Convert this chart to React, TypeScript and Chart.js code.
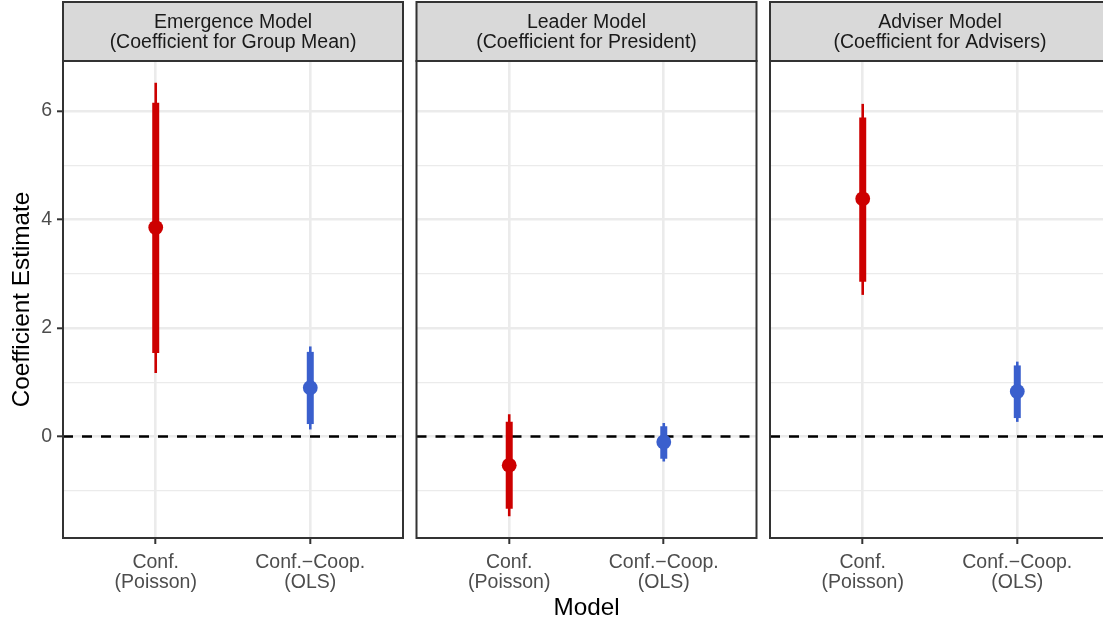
import React, { useEffect, useRef } from "react";
import { Chart, registerables } from "chart.js";

Chart.register(...registerables);

// Facet strip titles (two lines each)
const panelTitles = [
  ["Emergence Model", "(Coefficient for Group Mean)"],
  ["Leader Model", "(Coefficient for President)"],
  ["Adviser Model", "(Coefficient for Advisers)"],
];

// Model categories on the x axis
const modelLabels = [
  ["Conf.", "(Poisson)"],
  ["Conf.\u2212Coop.", "(OLS)"],
];
const modelPositions = [1, 2];
const modelColors = ["#CD0000", "#3A5FCD"];

// Coefficient estimates per panel: [Conf. (Poisson), Conf.-Coop. (OLS)]
const estimates = [
  [3.85, 0.9],
  [-0.53, -0.1],
  [4.38, 0.83],
];
// Inner (thick) interval bounds
const innerLow = [
  [1.54, 0.23],
  [-1.33, -0.41],
  [2.85, 0.34],
];
const innerHigh = [
  [6.15, 1.56],
  [0.27, 0.19],
  [5.88, 1.31],
];
// Outer (thin) interval bounds
const outerLow = [
  [1.17, 0.13],
  [-1.47, -0.46],
  [2.61, 0.27],
];
const outerHigh = [
  [6.52, 1.66],
  [0.41, 0.25],
  [6.13, 1.38],
];

// Axis ticks and limits
const yTicks = [-1, 0, 1, 2, 3, 4, 5, 6];
const yLabelled = [0, 2, 4, 6];
const yLimits = [-1.87, 6.92];
const xLimits = [0.4, 2.6];
const referenceLine = 0;

const FONT = "'Liberation Sans', Arial, Helvetica, sans-serif";
const FIG_W = 1103;
const FIG_H = 620;
const PANEL_LEFTS = [63, 416.5, 770];
const PANEL_W = 340;
const PANEL_TOP = 61;
const X_AXIS_H = 82;
const STRIP_TOP = 2;
const Y_AXIS_W = 63;

const facetStrip = {
  id: "facetStrip",
  afterDraw(chart: any, _args: any, opts: any) {
    const { ctx, chartArea: a } = chart;
    ctx.save();
    // strip background and frame
    ctx.fillStyle = "#D9D9D9";
    ctx.fillRect(a.left, STRIP_TOP, a.right - a.left, a.top - STRIP_TOP);
    ctx.strokeStyle = "#333333";
    ctx.lineWidth = 2;
    ctx.strokeRect(a.left, STRIP_TOP, a.right - a.left, a.top - STRIP_TOP);
    // panel frame
    ctx.strokeRect(a.left, a.top, a.right - a.left, a.bottom - a.top);
    // strip text
    ctx.fillStyle = "#1A1A1A";
    ctx.font = `19.5px ${FONT}`;
    ctx.textAlign = "center";
    ctx.textBaseline = "alphabetic";
    const cx = (a.left + a.right) / 2;
    const lines: string[] = opts.lines || [];
    lines.forEach((t, i) => ctx.fillText(t, cx, 27.7 + i * 19.8));
    ctx.restore();
  },
};

function FacetPanel({ index }: { index: number }) {
  const ref = useRef<HTMLCanvasElement>(null);
  const first = index === 0;
  const panelLeft = PANEL_LEFTS[index];
  const axisW = first ? Y_AXIS_W : 0;
  const canvasLeft = Math.max(0, Math.floor(panelLeft - axisW - 3));
  const padLeft = panelLeft - axisW - canvasLeft;
  const canvasW = Math.ceil(panelLeft + PANEL_W + 3 - canvasLeft);
  const padRight = canvasW - (panelLeft + PANEL_W - canvasLeft);

  useEffect(() => {
    const canvas = ref.current;
    if (!canvas) return;

    const points = {
      data: modelPositions.map((x, j) => ({ x, y: estimates[index][j] })),
      pointBackgroundColor: modelColors,
      pointBorderWidth: 0,
      pointRadius: 7.4,
      pointHoverRadius: 7.4,
      showLine: false,
    };
    const thick = modelPositions.map((x, j) => ({
      data: [
        { x, y: innerLow[index][j] },
        { x, y: innerHigh[index][j] },
      ],
      showLine: true,
      borderColor: modelColors[j],
      borderWidth: 7,
      borderCapStyle: "butt",
      pointRadius: 0,
      pointHoverRadius: 0,
    }));
    const thin = modelPositions.map((x, j) => ({
      data: [
        { x, y: outerLow[index][j] },
        { x, y: outerHigh[index][j] },
      ],
      showLine: true,
      borderColor: modelColors[j],
      borderWidth: 2.6,
      borderCapStyle: "butt",
      pointRadius: 0,
      pointHoverRadius: 0,
    }));
    const zero = {
      data: [
        { x: xLimits[0], y: referenceLine },
        { x: xLimits[1], y: referenceLine },
      ],
      showLine: true,
      borderColor: "#000000",
      borderWidth: 2.6,
      borderDash: [10, 9],
      borderCapStyle: "butt",
      pointRadius: 0,
      pointHoverRadius: 0,
    };

    const chart = new Chart(canvas, {
      type: "scatter",
      data: { datasets: [points, ...thick, ...thin, zero] as any },
      plugins: [facetStrip as any],
      options: {
        animation: false,
        responsive: false,
        devicePixelRatio: 1,
        events: [],
        layout: {
          autoPadding: false,
          padding: { top: PANEL_TOP, bottom: 0, left: padLeft, right: padRight },
        },
        plugins: {
          legend: { display: false },
          tooltip: { enabled: false },
          facetStrip: { lines: panelTitles[index] },
        } as any,
        scales: {
          x: {
            type: "linear",
            min: xLimits[0],
            max: xLimits[1],
            afterBuildTicks: (scale: any) => {
              scale.ticks = modelPositions.map((v) => ({ value: v }));
            },
            afterFit: (scale: any) => {
              scale.height = X_AXIS_H;
              scale.paddingLeft = 0;
              scale.paddingRight = 0;
            },
            border: { display: false },
            grid: {
              color: "#EBEBEB",
              lineWidth: 2.6,
              tickColor: "#333333",
              tickWidth: 2,
              tickLength: 6,
            },
            ticks: {
              autoSkip: false,
              maxRotation: 0,
              padding: 8.5,
              color: "#4D4D4D",
              font: { family: FONT, size: 19.5, lineHeight: "20px" },
              callback: (v: any) => modelLabels[modelPositions.indexOf(Number(v))] as any,
            },
            title: {
              display: index === 1,
              text: "Model",
              color: "#000000",
              font: { family: FONT, size: 24.3, lineHeight: 1.0 },
              padding: { top: 0, bottom: 0 },
            },
          },
          y: {
            type: "linear",
            min: yLimits[0],
            max: yLimits[1],
            afterBuildTicks: (scale: any) => {
              scale.ticks = yTicks.map((v) => ({ value: v }));
            },
            afterFit: (scale: any) => {
              scale.width = axisW;
              scale.paddingTop = 0;
              scale.paddingBottom = 0;
            },
            border: { display: false },
            grid: {
              color: "#EBEBEB",
              lineWidth: (c: any) => (yLabelled.includes(c.tick?.value) ? 2.6 : 1.3),
              tickColor: (c: any) =>
                yLabelled.includes(c.tick?.value) ? "#333333" : "rgba(0,0,0,0)",
              tickWidth: 2,
              tickLength: 6,
              drawTicks: first,
            },
            ticks: {
              display: first,
              autoSkip: false,
              padding: 5,
              color: "#4D4D4D",
              font: { family: FONT, size: 19.5 },
              callback: (v: any) => (yLabelled.includes(Number(v)) ? String(v) : ""),
            },
            title: {
              display: first,
              text: "Coefficient Estimate",
              color: "#000000",
              font: { family: FONT, size: 24.3, lineHeight: 1.1 },
              padding: { top: 8.5, bottom: 0 },
            },
          },
        },
      } as any,
    });
    return () => chart.destroy();
  }, [index]);

  return (
    <canvas
      ref={ref}
      width={canvasW}
      height={FIG_H}
      style={{
        position: "absolute",
        left: canvasLeft,
        top: 0,
        width: canvasW,
        height: FIG_H,
        display: "block",
      }}
    />
  );
}

export default function App() {
  return (
    <div
      style={{
        position: "absolute",
        left: 0,
        top: 0,
        width: FIG_W,
        height: FIG_H,
        overflow: "hidden",
        background: "#FFFFFF",
      }}
    >
      {panelTitles.map((_, i) => (
        <FacetPanel key={i} index={i} />
      ))}
    </div>
  );
}
